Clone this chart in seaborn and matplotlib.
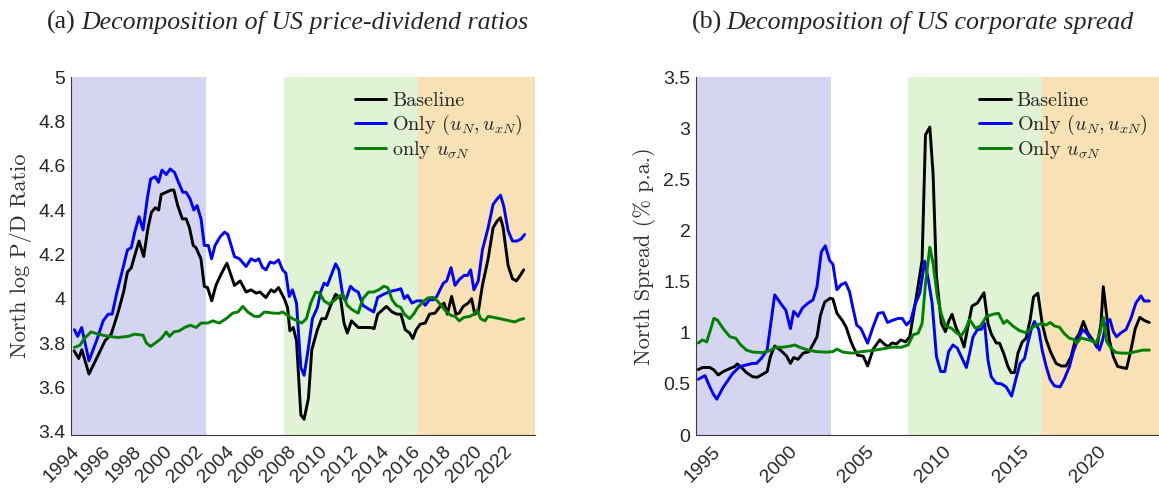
import matplotlib
matplotlib.use("Agg")
import matplotlib.pyplot as plt
import seaborn as sns
import numpy as np

# ---------------- data: (a) log price-dividend ratio ----------------
pd_base_t = [1994.2, 1994.5, 1994.7, 1995.16, 1995.65, 1996.2, 1996.6, 1997.05, 1997.4, 1997.65,
             1997.9, 1998.1, 1998.4, 1998.7, 1998.98, 1999.2, 1999.45, 1999.67, 1999.83, 2000.15,
             2000.47, 2000.65, 2000.9, 2001.2, 2001.45, 2001.66, 2001.9, 2002.08, 2002.4, 2002.62,
             2002.83, 2003.1, 2003.37, 2003.7, 2004.08, 2004.57, 2004.94, 2005.32, 2005.64, 2005.97,
             2006.22, 2006.6, 2006.93, 2007.14, 2007.42, 2007.79, 2008.0, 2008.15, 2008.37, 2008.58,
             2008.86, 2009.07, 2009.35, 2009.57, 2009.93, 2010.21, 2010.47, 2010.79, 2011.11, 2011.43,
             2011.65, 2011.86, 2012.14, 2012.57, 2012.93, 2013.36, 2013.6, 2013.83, 2014.39, 2014.76,
             2015.08, 2015.33, 2015.61, 2015.89, 2016.1, 2016.32, 2016.58, 2016.9, 2017.18, 2017.54,
             2017.86, 2018.12, 2018.33, 2018.61, 2018.89, 2019.1, 2019.36, 2019.68, 2019.9, 2020.11,
             2020.33, 2020.6, 2020.97, 2021.29, 2021.55, 2021.77, 2021.94, 2022.26, 2022.54, 2022.79,
             2023.0, 2023.27]
pd_base_v = [3.765, 3.73, 3.77, 3.66, 3.73, 3.81, 3.84, 3.94, 4.03, 4.12,
             4.14, 4.19, 4.26, 4.19, 4.32, 4.39, 4.41, 4.40, 4.47, 4.48,
             4.49, 4.49, 4.42, 4.36, 4.36, 4.32, 4.24, 4.23, 4.18, 4.055,
             4.05, 3.99, 4.06, 4.11, 4.16, 4.06, 4.08, 4.03, 4.04, 4.025,
             4.03, 4.005, 4.04, 4.03, 4.05, 4.00, 3.96, 3.855, 3.87, 3.81,
             3.476, 3.456, 3.55, 3.77, 3.86, 3.91, 3.91, 3.97, 4.02, 4.00,
             3.89, 3.845, 3.90, 3.87, 3.87, 3.87, 3.865, 3.93, 3.965, 3.94,
             3.93, 3.93, 3.86, 3.845, 3.82, 3.86, 3.885, 3.89, 3.93, 3.935,
             3.965, 3.98, 3.93, 4.01, 3.93, 3.935, 3.965, 3.98, 4.00, 3.93,
             3.94, 4.06, 4.18, 4.32, 4.35, 4.365, 4.32, 4.15, 4.09, 4.08,
             4.10, 4.13]

pd_cash_t = [1994.22, 1994.43, 1994.69, 1995.16, 1995.65, 1996.08, 1996.4, 1996.66, 1996.94, 1997.26,
             1997.65, 1997.9, 1998.12, 1998.4, 1998.66, 1998.94, 1999.15, 1999.45, 1999.66, 1999.88,
             2000.16, 2000.41, 2000.69, 2000.95, 2001.23, 2001.44, 2001.7, 2001.94, 2002.15, 2002.41,
             2002.62, 2002.88, 2003.09, 2003.31, 2003.65, 2003.93, 2004.14, 2004.57, 2004.89, 2005.32,
             2005.64, 2005.92, 2006.14, 2006.39, 2006.61, 2006.87, 2007.14, 2007.42, 2007.68, 2007.89,
             2008.11, 2008.32, 2008.58, 2008.86, 2009.07, 2009.29, 2009.61, 2009.93, 2010.14, 2010.36,
             2010.57, 2010.79, 2011.11, 2011.32, 2011.58, 2011.75, 2012.07, 2012.29, 2012.57, 2012.87,
             2013.21, 2013.57, 2013.83, 2014.22, 2014.65, 2015.12, 2015.33, 2015.55, 2015.76, 2016.04,
             2016.36, 2016.68, 2016.9, 2017.18, 2017.43, 2017.65, 2017.86, 2018.08, 2018.29, 2018.57,
             2018.83, 2019.1, 2019.41, 2019.64, 2019.84, 2020.05, 2020.33, 2020.6, 2020.97, 2021.29,
             2021.55, 2021.77, 2021.98, 2022.26, 2022.54, 2022.84, 2023.11, 2023.33]
pd_cash_v = [3.86, 3.83, 3.87, 3.72, 3.81, 3.90, 3.93, 3.93, 4.02, 4.11,
             4.22, 4.23, 4.30, 4.37, 4.31, 4.455, 4.54, 4.55, 4.525, 4.58,
             4.56, 4.585, 4.57, 4.525, 4.48, 4.48, 4.45, 4.40, 4.42, 4.36,
             4.24, 4.24, 4.18, 4.24, 4.28, 4.30, 4.29, 4.19, 4.18, 4.145,
             4.18, 4.17, 4.18, 4.14, 4.13, 4.165, 4.16, 4.175, 4.13, 4.115,
             4.01, 4.04, 3.98, 3.69, 3.654, 3.75, 3.91, 3.96, 4.03, 4.07,
             4.06, 4.10, 4.157, 4.13, 4.01, 3.99, 4.056, 4.04, 4.03, 3.97,
             3.955, 3.94, 4.006, 4.02, 4.033, 4.04, 4.045, 4.00, 4.015, 3.98,
             3.99, 3.99, 3.97, 3.995, 3.995, 4.01, 4.04, 4.07, 4.08, 4.14,
             4.06, 4.086, 4.105, 4.105, 4.13, 4.04, 4.08, 4.22, 4.32, 4.425,
             4.45, 4.467, 4.417, 4.307, 4.26, 4.26, 4.27, 4.29]

pd_vol_t = [1994.22, 1994.58, 1994.86, 1995.29, 1995.76, 1996.41, 1997.05, 1997.69, 1998.12, 1998.66,
            1998.87, 1999.15, 1999.45, 1999.83, 2000.16, 2000.37, 2000.65, 2001.01, 2001.34, 2001.72,
            2002.09, 2002.41, 2002.84, 2003.16, 2003.59, 2004.04, 2004.46, 2004.79, 2005.11, 2005.43,
            2005.86, 2006.18, 2006.5, 2007.04, 2007.47, 2007.68, 2008.0, 2008.32, 2008.64, 2008.92,
            2009.22, 2009.5, 2009.82, 2010.08, 2010.36, 2010.68, 2011.0, 2011.32, 2011.58, 2011.86,
            2012.18, 2012.57, 2012.87, 2013.25, 2013.57, 2013.9, 2014.22, 2014.48, 2014.76, 2015.03,
            2015.33, 2015.55, 2015.89, 2016.15, 2016.41, 2016.75, 2017.05, 2017.39, 2017.69, 2017.97,
            2018.25, 2018.55, 2018.83, 2019.1, 2019.41, 2019.79, 2020.05, 2020.26, 2020.48, 2020.76,
            2020.97, 2021.29, 2021.72, 2022.04, 2022.36, 2022.69, 2023.0, 2023.27]
pd_vol_v = [3.78, 3.79, 3.82, 3.85, 3.84, 3.83, 3.825, 3.83, 3.84, 3.835,
            3.80, 3.785, 3.80, 3.82, 3.85, 3.83, 3.85, 3.855, 3.87, 3.88,
            3.87, 3.89, 3.89, 3.90, 3.89, 3.91, 3.935, 3.94, 3.965, 3.94,
            3.92, 3.92, 3.94, 3.935, 3.934, 3.94, 3.925, 3.91, 3.90, 3.89,
            3.91, 3.98, 4.03, 4.025, 3.99, 3.976, 3.99, 4.01, 4.02, 3.97,
            3.95, 3.935, 4.00, 4.03, 4.03, 4.04, 4.056, 4.05, 3.995, 3.97,
            3.96, 3.93, 3.91, 3.93, 3.96, 3.985, 4.003, 4.006, 3.99, 3.965,
            3.943, 3.925, 3.92, 3.90, 3.916, 3.92, 3.93, 3.95, 3.91, 3.90,
            3.92, 3.916, 3.91, 3.905, 3.90, 3.895, 3.905, 3.91]

# ---------------- data: (b) corporate spread (% p.a.) ----------------
sp_base_t = [1994.15, 1994.43, 1994.9, 1995.16, 1995.44, 1995.76, 1996.2, 1996.52, 1996.67, 1996.95,
             1997.27, 1997.66, 1997.96, 1998.35, 1998.61, 1998.82, 1999.1, 1999.47, 1999.86, 2000.12,
             2000.33, 2000.61, 2000.94, 2001.32, 2001.62, 2001.84, 2002.06, 2002.34, 2002.7, 2002.87,
             2003.13, 2003.48, 2003.74, 2004.0, 2004.19, 2004.47, 2004.84, 2005.12, 2005.48, 2005.91,
             2006.19, 2006.45, 2006.71, 2006.99, 2007.27, 2007.57, 2007.85, 2008.07, 2008.35, 2008.65,
             2008.87, 2009.15, 2009.36, 2009.58, 2009.9, 2010.16, 2010.37, 2010.59, 2010.87, 2011.15,
             2011.37, 2011.62, 2011.88, 2012.23, 2012.44, 2012.66, 2012.92, 2013.13, 2013.45, 2013.67,
             2013.93, 2014.21, 2014.42, 2014.64, 2014.86, 2015.14, 2015.39, 2015.65, 2015.87, 2016.15,
             2016.43, 2016.69, 2017.01, 2017.33, 2017.66, 2017.98, 2018.3, 2018.58, 2018.84, 2019.1,
             2019.38, 2019.7, 2019.98, 2020.24, 2020.39, 2020.57, 2020.78, 2021.04, 2021.32, 2021.6,
             2021.9, 2022.18, 2022.46, 2022.76, 2023.04, 2023.37]
sp_base_v = [0.64, 0.66, 0.66, 0.636, 0.587, 0.62, 0.65, 0.67, 0.695, 0.66,
             0.61, 0.57, 0.564, 0.597, 0.62, 0.766, 0.87, 0.83, 0.773, 0.70,
             0.757, 0.74, 0.80, 0.815, 0.897, 0.96, 1.17, 1.30, 1.337, 1.33,
             1.19, 1.12, 1.05, 0.93, 0.86, 0.78, 0.77, 0.675, 0.84, 0.93,
             0.89, 0.864, 0.90, 0.89, 0.93, 0.91, 0.96, 1.16, 1.42, 1.71,
             2.935, 3.01, 2.56, 1.55, 1.09, 1.01, 1.11, 1.18, 1.04, 0.96,
             0.86, 1.06, 1.26, 1.29, 1.34, 1.39, 1.09, 0.99, 0.90, 0.897,
             0.80, 0.67, 0.61, 0.61, 0.80, 0.91, 0.946, 1.125, 1.35, 1.386,
             1.09, 0.93, 0.80, 0.70, 0.675, 0.675, 0.766, 0.93, 0.995, 1.11,
             1.00, 0.93, 0.858, 1.09, 1.45, 1.22, 0.93, 0.766, 0.67, 0.66,
             0.65, 0.83, 1.04, 1.15, 1.12, 1.10]

sp_cash_t = [1994.15, 1994.58, 1994.9, 1995.12, 1995.35, 1995.76, 1996.37, 1996.84, 1997.27, 1997.66,
             1997.92, 1998.24, 1998.61, 1998.82, 1999.1, 1999.47, 1999.82, 2000.12, 2000.33, 2000.61,
             2000.89, 2001.26, 2001.58, 2001.84, 2002.12, 2002.38, 2002.66, 2002.87, 2003.13, 2003.41,
             2003.69, 2003.95, 2004.17, 2004.41, 2004.69, 2005.12, 2005.48, 2005.81, 2006.13, 2006.41,
             2006.71, 2007.1, 2007.36, 2007.64, 2007.92, 2008.18, 2008.5, 2008.82, 2009.04, 2009.3,
             2009.58, 2009.86, 2010.12, 2010.37, 2010.65, 2010.93, 2011.19, 2011.52, 2011.73, 2011.95,
             2012.23, 2012.49, 2012.7, 2012.92, 2013.13, 2013.45, 2013.78, 2014.1, 2014.45, 2014.75,
             2015.0, 2015.29, 2015.5, 2015.72, 2015.93, 2016.21, 2016.43, 2016.69, 2016.95, 2017.23,
             2017.59, 2017.87, 2018.2, 2018.45, 2018.73, 2019.06, 2019.32, 2019.6, 2019.92, 2020.14,
             2020.35, 2020.57, 2020.82, 2021.04, 2021.25, 2021.54, 2021.86, 2022.18, 2022.5, 2022.83,
             2023.04, 2023.37]
sp_cash_v = [0.545, 0.58, 0.47, 0.40, 0.35, 0.466, 0.60, 0.67, 0.685, 0.70,
             0.70, 0.75, 0.83, 1.06, 1.37, 1.29, 1.22, 1.04, 1.21, 1.16,
             1.24, 1.29, 1.32, 1.45, 1.79, 1.85, 1.706, 1.67, 1.42, 1.47,
             1.49, 1.40, 1.24, 1.076, 1.04, 0.897, 1.06, 1.19, 1.197, 1.10,
             1.12, 1.14, 1.14, 1.076, 1.12, 1.27, 1.386, 1.70, 1.53, 1.29,
             0.766, 0.62, 0.62, 0.815, 0.88, 0.85, 0.766, 0.66, 0.80, 0.96,
             1.03, 1.034, 1.09, 0.73, 0.57, 0.506, 0.50, 0.47, 0.38, 0.56,
             0.70, 0.75, 0.897, 1.03, 1.11, 1.03, 0.83, 0.67, 0.54, 0.48,
             0.47, 0.55, 0.67, 0.815, 0.93, 1.03, 0.995, 0.93, 0.897, 0.83,
             0.93, 1.09, 1.13, 1.01, 0.96, 1.00, 1.03, 1.14, 1.29, 1.36,
             1.31, 1.31]

sp_vol_t = [1994.15, 1994.43, 1994.69, 1994.9, 1995.16, 1995.38, 1995.76, 1996.2, 1996.58, 1996.84,
            1997.27, 1997.7, 1998.35, 1998.78, 1999.17, 1999.64, 2000.12, 2000.4, 2000.72, 2001.26,
            2001.8, 2002.44, 2002.87, 2003.13, 2003.52, 2004.12, 2004.73, 2005.37, 2006.02, 2006.67,
            2007.31, 2007.74, 2008.07, 2008.39, 2008.65, 2008.87, 2009.15, 2009.36, 2009.64, 2009.9,
            2010.16, 2010.55, 2010.87, 2011.19, 2011.45, 2011.73, 2012.1, 2012.44, 2012.81, 2013.24,
            2013.6, 2013.93, 2014.14, 2014.53, 2014.96, 2015.39, 2015.72, 2016.08, 2016.43, 2016.69,
            2016.95, 2017.23, 2017.55, 2017.87, 2018.2, 2018.45, 2018.67, 2018.95, 2019.27, 2019.6,
            2019.92, 2020.18, 2020.39, 2020.61, 2020.89, 2021.21, 2021.64, 2022.07, 2022.5, 2022.94,
            2023.37]
sp_vol_v = [0.90, 0.93, 0.91, 1.01, 1.14, 1.125, 1.04, 0.96, 0.946, 0.89,
            0.83, 0.81, 0.806, 0.825, 0.858, 0.858, 0.87, 0.88, 0.858, 0.83,
            0.815, 0.81, 0.815, 0.84, 0.81, 0.80, 0.815, 0.825, 0.84, 0.858,
            0.858, 0.88, 0.98, 0.995, 1.09, 1.48, 1.836, 1.68, 1.35, 1.18,
            1.066, 1.044, 1.00, 0.97, 1.03, 1.13, 1.044, 1.066, 1.158, 1.18,
            1.19, 1.09, 1.12, 1.066, 1.02, 1.00, 1.044, 1.076, 1.09, 1.076,
            1.10, 1.066, 1.054, 0.99, 0.946, 0.936, 0.897, 0.95, 0.936, 0.923,
            0.897, 1.00, 1.15, 0.913, 0.85, 0.806, 0.80, 0.80, 0.815, 0.83,
            0.83]

# regimes (shaded periods)
regime_edges = [1994.0, 2002.75, 2007.75, 2016.45, 2024.0]
regime_colors = ["#d5d5f1", None, "#e0f3d5", "#f8e1b5"]

left_xticks = list(range(1994, 2023, 2))
right_xticks = [1995, 2000, 2005, 2010, 2015, 2020]
left_yticks = [3.4, 3.6, 3.8, 4.0, 4.2, 4.4, 4.6, 4.8, 5.0]
right_yticks = [0, 0.5, 1, 1.5, 2, 2.5, 3, 3.5]

labels_left = ["Baseline", r"Only $(u_N,u_{xN})$", r"only $u_{\sigma N}$"]
labels_right = ["Baseline", r"Only $(u_N,u_{xN})$", r"Only $u_{\sigma N}$"]
line_colors = ["#000000", "#0000ff", "#008000"]

# ---------------- style ----------------
sns.set_style("white")
plt.rcParams["mathtext.fontset"] = "cm"
plt.rcParams["font.family"] = ["Liberation Sans", "DejaVu Sans"]
plt.rcParams["axes.unicode_minus"] = False

fig = plt.figure(figsize=(11.59, 4.92), dpi=100)
W, H = 1159.0, 492.0
axL = fig.add_axes([71 / W, (H - 435) / H, (535 - 71) / W, (435 - 77) / H])
axR = fig.add_axes([696 / W, (H - 435) / H, (1159 - 696) / W, (435 - 77) / H])

axis_col = "#3a3a3a"
tick_col = "#262626"


def style_axes(ax, xlim, ylim, xticks, yticks, ylabel):
    for i, c in enumerate(regime_colors):
        if c is not None:
            ax.axvspan(regime_edges[i], regime_edges[i + 1], color=c, lw=0, zorder=0)
    ax.set_xlim(*xlim)
    ax.set_ylim(*ylim)
    ax.set_xticks(xticks)
    ax.set_xticklabels([str(t) for t in xticks], rotation=45, ha="right",
                       rotation_mode="anchor", fontsize=14, color=tick_col)
    ax.set_yticks(yticks)
    ax.set_yticklabels(["%g" % t for t in yticks], fontsize=14, color=tick_col)
    ax.tick_params(direction="in", length=4, width=0.8, color=axis_col, pad=4)
    ax.tick_params(axis="x", pad=6)
    for s in ["top", "right"]:
        ax.spines[s].set_visible(False)
    for s in ["left", "bottom"]:
        ax.spines[s].set_color(axis_col)
        ax.spines[s].set_linewidth(0.8)
    ax.set_ylabel(ylabel, fontfamily="cmr10", fontsize=16, color="#333333")
    ax.grid(False)


series_L = [(pd_base_t, pd_base_v), (pd_cash_t, pd_cash_v), (pd_vol_t, pd_vol_v)]
series_R = [(sp_base_t, sp_base_v), (sp_cash_t, sp_cash_v), (sp_vol_t, sp_vol_v)]

for ax, series, labels in [(axL, series_L, labels_left), (axR, series_R, labels_right)]:
    for (t, v), lab, col in zip(series, labels, line_colors):
        sns.lineplot(x=t, y=v, ax=ax, color=col, lw=2.1, label=lab, zorder=3)

style_axes(axL, (1994, 2024), (3.385, 5.0), left_xticks, left_yticks, "North log P/D Ratio")
style_axes(axR, (1994, 2024), (0, 3.5), right_xticks, right_yticks, "North Spread (% p.a.)")
axL.yaxis.set_label_coords(-0.083, 0.5)
axR.yaxis.set_label_coords(-0.086, 0.5)

for ax in (axL, axR):
    ax.legend(loc="upper left", bbox_to_anchor=(0.612, 0.957), frameon=False,
              prop={"family": "cmr10", "size": 14.5}, handlelength=1.55,
              handletextpad=0.3, labelspacing=0.12, borderaxespad=0, borderpad=0)

# titles
ty = 1 - 22 / H
tfs = 18.6
fig.text(47 / W, ty, "(a)", fontfamily="Liberation Serif", fontsize=tfs, va="center", ha="left")
fig.text(81 / W, ty, "Decomposition of US price-dividend ratios", fontfamily="Liberation Serif",
         fontstyle="italic", fontsize=tfs, va="center", ha="left")
fig.text(692 / W, ty, "(b)", fontfamily="Liberation Serif", fontsize=tfs, va="center", ha="left")
fig.text(726 / W, ty, "Decomposition of US corporate spread", fontfamily="Liberation Serif",
         fontstyle="italic", fontsize=tfs, va="center", ha="left")

fig.savefig("out.png", dpi=100)
